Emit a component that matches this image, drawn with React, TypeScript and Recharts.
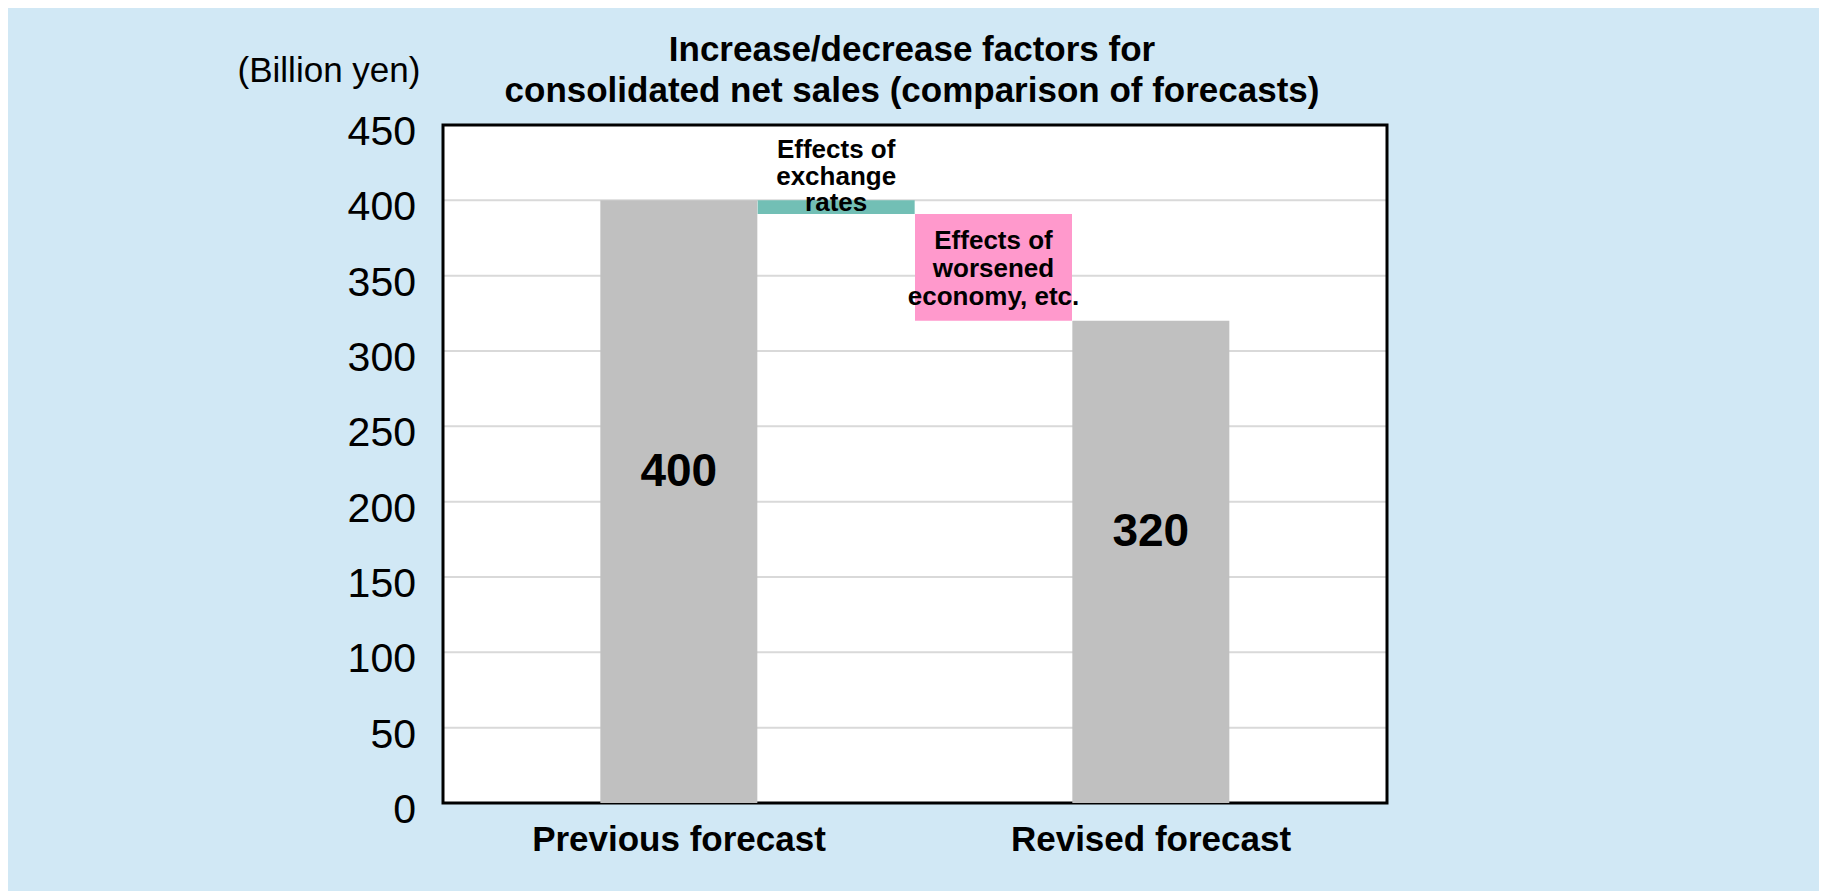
import React from 'react';
import { BarChart, Bar, Cell, XAxis, YAxis, CartesianGrid, ReferenceArea, LabelList } from 'recharts';

const steps = ['Previous forecast', 'Effects of exchange rates', 'Effects of worsened economy, etc.', 'Revised forecast'];
const stepValues = [400, -9, -71, 320];
const stepIsTotal = [true, false, false, true];
const stepColors = ['#c0c0c0', '#72bfb5', '#ff99cc', '#c0c0c0'];
const exchangeLabel = ['Effects of', 'exchange', 'rates'];
const worsenedLabel = ['Effects of', 'worsened', 'economy, etc.'];
const yTicks = [0, 50, 100, 150, 200, 250, 300, 350, 400, 450];

const FONT = "'Liberation Sans', Arial, sans-serif";

// waterfall rows: invisible base + visible step, with an empty slot at each end
let running = 0;
const rows = [
    { key: 'pad-start', base: 0, delta: 0, color: 'transparent' },
    ...steps.map((name, i) => {
        const v = stepValues[i];
        if (stepIsTotal[i]) {
            running = v;
            return { key: name, base: 0, delta: v, color: stepColors[i] };
        }
        const end = running + v;
        const row = { key: name, base: Math.min(running, end), delta: Math.abs(v), color: stepColors[i] };
        running = end;
        return row;
    }),
    { key: 'pad-end', base: 0, delta: 0, color: 'transparent' },
];

const renderStepLabel = (props: any) => {
    const { x, y, width, height, value } = props;
    const i = steps.indexOf(value);
    if (i < 0) return null;
    const cx = Number(x) + Number(width) / 2;
    const top = Number(y);
    if (stepIsTotal[i]) {
        return (
            <text x={cx} y={top + Number(height) / 2 - 32} textAnchor="middle" dominantBaseline="central"
                fontFamily={FONT} fontWeight="bold" fontSize={46} fill="#000">
                {stepValues[i]}
            </text>
        );
    }
    const lines = i === 1 ? exchangeLabel : worsenedLabel;
    const offsets = i === 1 ? [-51, -24.5, 2] : [26, 54, 82];
    return (
        <g>
            {lines.map((ln, k) => (
                <text key={k} x={cx} y={top + offsets[k]} textAnchor="middle" dominantBaseline="central"
                    fontFamily={FONT} fontWeight="bold" fontSize={26} fill="#000">
                    {ln}
                </text>
            ))}
        </g>
    );
};

const renderXTick = (props: any) => {
    const { x, y, payload } = props;
    const label = stepIsTotal[steps.indexOf(payload.value)] ? payload.value : '';
    if (!label) return null;
    return (
        <text x={x} y={y + 27} textAnchor="middle" dominantBaseline="central"
            fontFamily={FONT} fontWeight="bold" fontSize={35} fill="#000">
            {label}
        </text>
    );
};

const renderYTick = (props: any) => {
    const { x, y, payload } = props;
    return (
        <text x={x} y={Number(y) + 20} textAnchor="end" fontFamily={FONT} fontSize={41} fill="#000">
            {payload.value}
        </text>
    );
};

const App: React.FC = () => {
    return (
        <div style={{ position: 'relative', width: 1819, height: 883, background: '#d1e8f5', fontFamily: FONT }}>
            <style>{'html,body{overflow:hidden}'}</style>
            <div style={{ position: 'absolute', left: 171, top: 42, width: 300, textAlign: 'center', fontSize: 35, lineHeight: '40px', color: '#000' }}>
                (Billion yen)
            </div>
            <div style={{ position: 'absolute', left: 404, top: 20, width: 1000, textAlign: 'center', fontSize: 35, lineHeight: '41px', fontWeight: 'bold', color: '#000' }}>
                Increase/decrease factors for<br />consolidated net sales (comparison of forecasts)
            </div>
            <BarChart
                width={1819}
                height={883}
                data={rows}
                margin={{ top: 117, right: 440, bottom: 28, left: 335 }}
                barCategoryGap={0}
                barGap={0}
            >
                <CartesianGrid vertical={false} stroke="#d9d9d9" strokeWidth={2} fill="#ffffff" fillOpacity={1} />
                <XAxis dataKey="key" tickLine={false} axisLine={false} interval={0} height={60} tick={renderXTick} />
                <YAxis
                    domain={[0, 450]}
                    ticks={yTicks}
                    tickLine={false}
                    axisLine={false}
                    width={100}
                    tickMargin={21}
                    tick={renderYTick}
                />
                <Bar dataKey="base" stackId="w" fill="transparent" isAnimationActive={false} />
                <Bar dataKey="delta" stackId="w" isAnimationActive={false}>
                    {rows.map((r) => (
                        <Cell key={r.key} fill={r.color} />
                    ))}
                    <LabelList dataKey="key" content={renderStepLabel} />
                </Bar>
                <ReferenceArea y1={0} y2={450} fill="none" stroke="#000" strokeWidth={3} ifOverflow="visible" />
            </BarChart>
        </div>
    );
};

export default App;
